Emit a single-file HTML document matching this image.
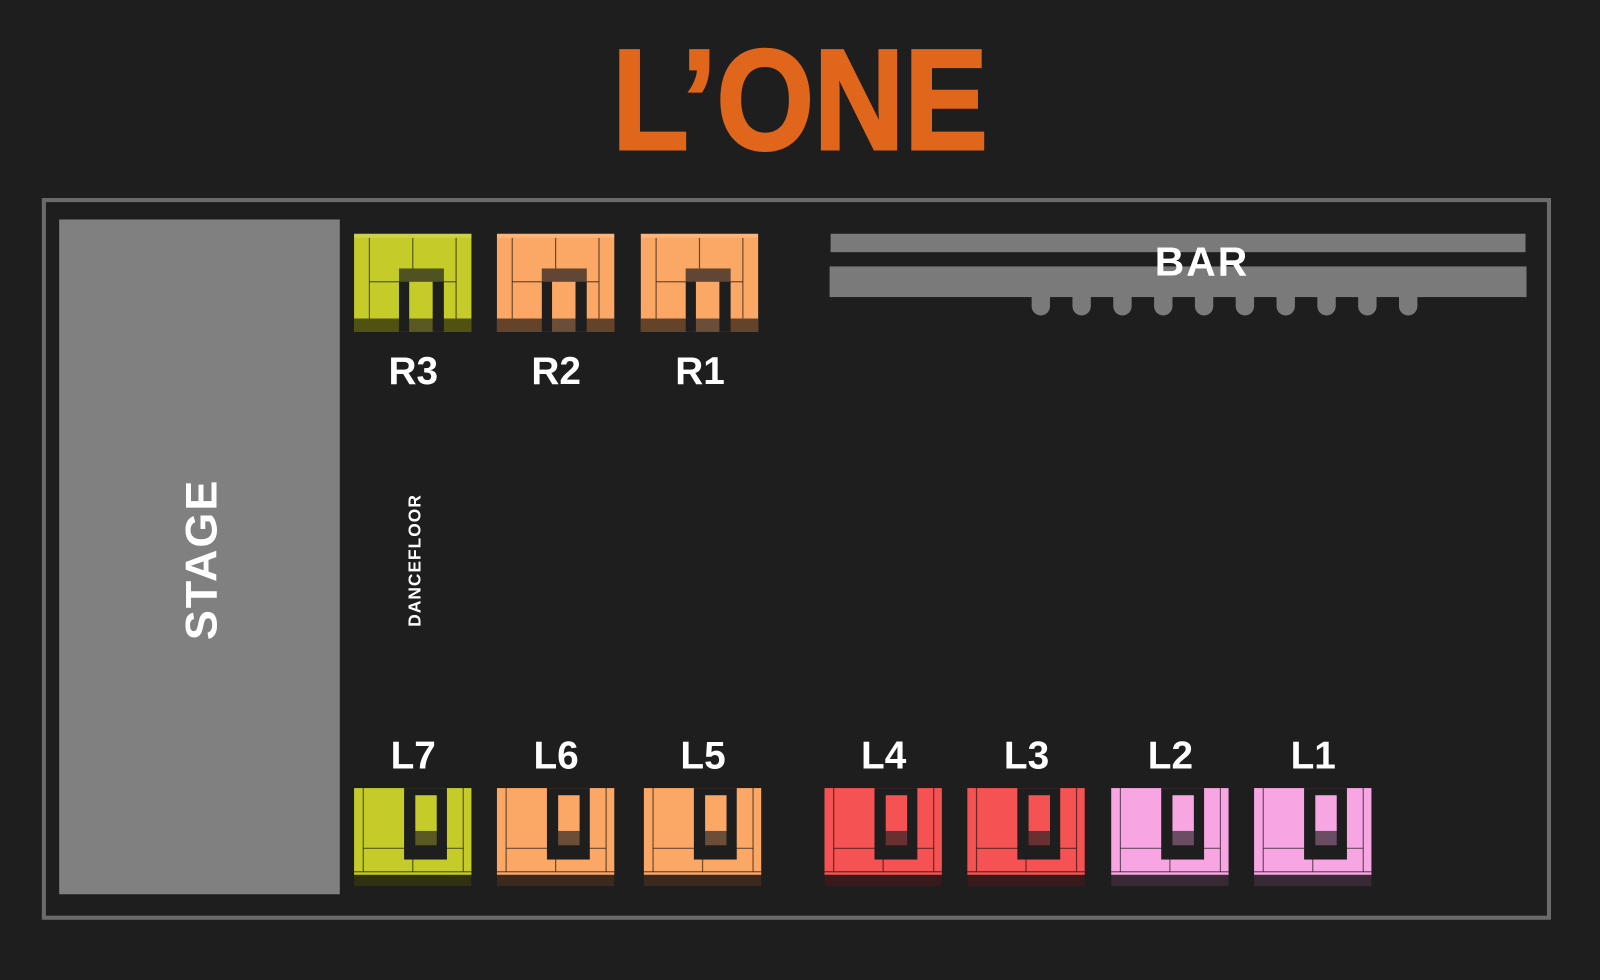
<!DOCTYPE html>
<html><head><style>
html,body{margin:0;padding:0;background:#1f1e1f;}
svg{display:block}
text{font-family:"Liberation Sans",sans-serif;font-weight:bold;}
</style></head><body>
<svg width="1600" height="980" viewBox="0 0 1568 960" preserveAspectRatio="none" xmlns="http://www.w3.org/2000/svg">
<defs>
<g id="top">
  <rect x="0" y="0" width="115" height="96" fill="var(--c)"/>
  <rect x="0" y="83" width="115" height="13" fill="#000" opacity="0.6"/>
  <rect x="0" y="0" width="115" height="4" fill="#fff" opacity="0.15"/>
  <g stroke="#000" stroke-opacity="0.55" stroke-width="1.2">
    <line x1="15" y1="4" x2="15" y2="83"/><line x1="100" y1="4" x2="100" y2="83"/>
    <line x1="57.5" y1="4" x2="57.5" y2="34"/><line x1="15" y1="47" x2="100" y2="47"/>
  </g>
  <rect x="44" y="34" width="44" height="62" fill="#1f1e1f"/>
  <rect x="44" y="34" width="44" height="13" fill="var(--c)" opacity="0.3"/>
  <rect x="54" y="47" width="23" height="36" fill="var(--c)"/>
  <rect x="54" y="83" width="23" height="13" fill="var(--c)" opacity="0.35"/>
</g>
<g id="bot">
  <rect x="0" y="0" width="115" height="85" fill="var(--c)"/>
  <rect x="0" y="85" width="115" height="11" fill="#000" opacity="0.65"/>
  <rect x="0" y="85" width="115" height="11" fill="var(--c)" opacity="0.2"/>
  <g stroke="#000" stroke-opacity="0.55" stroke-width="1.2">
    <line x1="9" y1="0" x2="9" y2="82"/><line x1="107" y1="0" x2="107" y2="82"/>
    <line x1="9" y1="59" x2="107" y2="59"/><line x1="57.5" y1="59" x2="57.5" y2="82"/>
    <line x1="0" y1="82" x2="115" y2="82"/>
  </g>
  <rect x="49" y="0" width="42" height="70" fill="#1f1e1f"/>
  <rect x="60" y="7" width="21" height="35" fill="var(--c)"/>
  <rect x="60" y="42" width="21" height="14" fill="var(--c)" opacity="0.35"/>
</g>
<g id="bump"><rect x="-9" y="288" width="18" height="12" fill="#7a7a7a"/><circle cx="0" cy="300" r="9" fill="#7a7a7a"/></g>
</defs>
<rect width="1568" height="960" fill="#1f1e1f"/>
<text x="600" y="146" font-size="140" fill="#e0661c" textLength="368" lengthAdjust="spacingAndGlyphs" stroke="#e0661c" stroke-width="3">L’ONE</text>
<rect x="43" y="196" width="1475" height="703" fill="none" stroke="#6b6b6b" stroke-width="4"/>
<rect x="58" y="215" width="275" height="661" fill="#808080"/>
<text transform="translate(212,548) rotate(-90)" font-size="44" fill="#fff" text-anchor="middle" letter-spacing="2">STAGE</text>
<text transform="translate(412,549) rotate(-90)" font-size="17" fill="#fff" text-anchor="middle" letter-spacing="1">DANCEFLOOR</text>
<rect x="814" y="229" width="681" height="18" fill="#7a7a7a"/>
<rect x="813" y="261" width="683" height="30" fill="#7a7a7a"/>
<use href="#bump" x="1020"/><use href="#bump" x="1060"/><use href="#bump" x="1100"/><use href="#bump" x="1140"/><use href="#bump" x="1180"/><use href="#bump" x="1220"/><use href="#bump" x="1260"/><use href="#bump" x="1300"/><use href="#bump" x="1340"/><use href="#bump" x="1380"/>
<text x="1178" y="270" font-size="40" fill="#fff" text-anchor="middle" letter-spacing="2">BAR</text>

<use href="#top" x="347" y="229" style="--c:#c5cc2a"/>
<use href="#top" x="487" y="229" style="--c:#fba766"/>
<use href="#top" x="628" y="229" style="--c:#fba766"/>
<g font-size="38" fill="#fff" text-anchor="middle">
<text x="405" y="376">R3</text><text x="545" y="376">R2</text><text x="686" y="376">R1</text>
<text x="405" y="753">L7</text><text x="545" y="753">L6</text><text x="689" y="753">L5</text>
<text x="866" y="753">L4</text><text x="1006" y="753">L3</text><text x="1147" y="753">L2</text><text x="1287" y="753">L1</text>
</g>
<use href="#bot" x="347" y="772" style="--c:#c5cc2a"/>
<use href="#bot" x="487" y="772" style="--c:#fba766"/>
<use href="#bot" x="631" y="772" style="--c:#fba766"/>
<use href="#bot" x="808" y="772" style="--c:#f55353"/>
<use href="#bot" x="948" y="772" style="--c:#f55353"/>
<use href="#bot" x="1089" y="772" style="--c:#f7a6e3"/>
<use href="#bot" x="1229" y="772" style="--c:#f7a6e3"/>
</svg>
</body></html>
